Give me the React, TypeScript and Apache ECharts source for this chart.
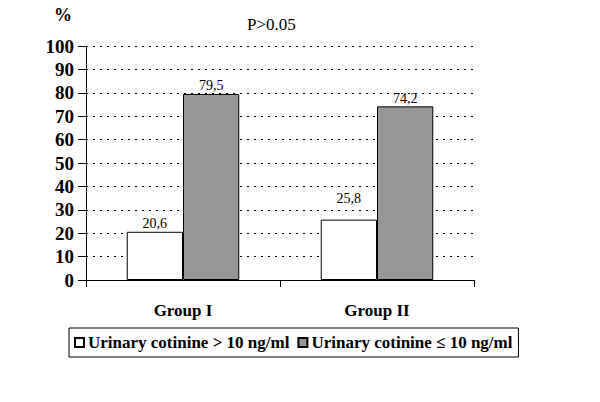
import React, { useEffect, useRef } from "react";
import * as echarts from "echarts";

const categories = ["Group I", "Group II"];
const seriesNames = ["Urinary cotinine > 10 ng/ml", "Urinary cotinine \u2264 10 ng/ml"];
const highValues = [20.6, 25.8];
const lowValues = [79.5, 74.2];
const yTicks = [0, 10, 20, 30, 40, 50, 60, 70, 80, 90, 100];

const FONT = "'Liberation Serif'";

export default function App() {
  const ref = useRef<HTMLDivElement>(null);
  useEffect(() => {
    if (!ref.current) return;
    const chart = echarts.init(ref.current, null, { renderer: "svg" });
    const labelOpt = {
      show: true,
      position: "top",
      distance: 1,
      color: "#000",
      fontFamily: FONT,
      fontSize: 14,
      formatter: (p: any) => String(p.value).replace(".", ","),
    };
    chart.setOption({
      animation: false,
      textStyle: { fontFamily: FONT },
      grid: { left: 86, right: 126, top: 46, bottom: 122, containLabel: false },
      graphic: [
        {
          type: "text",
          left: 54,
          top: 6,
          style: { text: "%", font: `bold 18px ${FONT}`, fill: "#000" },
        },
        {
          type: "text",
          left: 247,
          top: 16,
          style: { text: "P>0.05", font: `17px ${FONT}`, fill: "#000" },
        },
      ],
      legend: {
        bottom: 45,
        left: 69,
        data: seriesNames,
        icon: "rect",
        itemWidth: 9,
        itemHeight: 9,
        itemGap: 8,
        borderColor: "#000",
        borderWidth: 1,
        padding: [6, 6, 6, 5],
        textStyle: { fontFamily: FONT, fontSize: 17, fontWeight: "bold", color: "#000", padding: [0, 0, 0, -1] },
        selectedMode: false,
      },
      xAxis: {
        type: "category",
        data: categories,
        axisLine: { lineStyle: { color: "#000", width: 1 } },
        axisTick: { show: true, length: 7, lineStyle: { color: "#000" } },
        axisLabel: {
          color: "#000",
          fontFamily: FONT,
          fontSize: 17,
          fontWeight: "bold",
          margin: 22,
        },
      },
      yAxis: {
        type: "value",
        min: 0,
        max: 100,
        interval: 10,
        axisLine: { show: true, lineStyle: { color: "#000", width: 1 } },
        axisTick: { show: true, length: 8, lineStyle: { color: "#000" } },
        axisLabel: {
          color: "#000",
          fontFamily: FONT,
          fontSize: 19,
          fontWeight: "bold",
          margin: 12,
          formatter: (v: number) => (yTicks.includes(v) ? String(v) : ""),
        },
        splitLine: { show: true, lineStyle: { color: "#000", type: [2, 5], width: 1 } },
      },
      series: [
        {
          name: seriesNames[0],
          type: "bar",
          data: highValues.map((v, i) =>
            i === 1 ? { value: v, label: { ...labelOpt, distance: 14 } } : v
          ),
          barGap: "0%",
          barCategoryGap: "42%",
          itemStyle: { color: "#ffffff", borderColor: "#000", borderWidth: 1 },
          label: labelOpt,
        },
        {
          name: seriesNames[1],
          type: "bar",
          data: lowValues,
          barGap: "0%",
          barCategoryGap: "42%",
          itemStyle: { color: "#969696", borderColor: "#000", borderWidth: 1 },
          label: labelOpt,
        },
      ],
    });
    return () => chart.dispose();
  }, []);
  return <div ref={ref} style={{ width: 600, height: 402, position: "absolute", left: 0, top: 0, background: "#fff" }} />;
}
